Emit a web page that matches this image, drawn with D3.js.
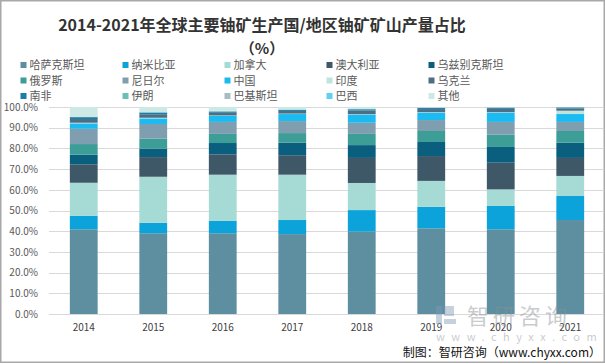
<!DOCTYPE html>
<html>
<head>
<meta charset="utf-8">
<script src="https://cdn.jsdelivr.net/npm/d3@7"></script>
<style>
    body { margin: 0; background: #fff; }
    svg { display: block; font-family: "Noto Sans CJK SC", "Noto Sans", sans-serif; }
</style>
</head>
<body>
<script>
//chart data (share of world uranium mine output, %)
var years = ["2014", "2015", "2016", "2017", "2018", "2019", "2020", "2021"];

var seriesNames = ["哈萨克斯坦", "纳米比亚", "加拿大", "澳大利亚", "乌兹别克斯坦",
    "俄罗斯", "尼日尔", "中国", "印度", "乌克兰", "南非", "伊朗", "巴基斯坦", "巴西", "其他"];

var seriesColors = ["#5d8fa1", "#0ba3da", "#a6dad5", "#3e5867", "#0b5f7e",
    "#3d9d97", "#7f9fb1", "#1bbaf0", "#bfe3dd", "#4e6e84", "#1a7ea8", "#6cc1b2", "#a9bcc1", "#60d0f5", "#cde9e5"];

var kazakhstan = [40.9, 39.0, 39.0, 38.6, 39.8, 41.4, 40.9, 45.4];
var namibia    = [6.6, 5.1, 6.1, 6.8, 10.4, 10.4, 11.3, 11.6];
var canada     = [15.9, 22.2, 22.2, 21.9, 13.1, 12.5, 8.0, 9.7];
var australia  = [8.9, 9.5, 9.8, 9.4, 12.1, 12.0, 12.9, 8.7];
var uzbekistan = [4.7, 4.1, 5.5, 6.1, 6.2, 6.8, 7.6, 7.4];
var russia     = [5.1, 4.8, 4.4, 4.6, 5.4, 5.3, 5.9, 5.6];
var niger      = [7.4, 7.1, 5.8, 5.8, 5.4, 5.3, 6.2, 4.4];
var china      = [2.6, 2.7, 2.9, 3.4, 3.9, 3.6, 4.5, 3.8];
var india      = [0.3, 0.3, 0.2, 0.2, 0.2, 0.2, 0.2, 1.6];
var ukraine    = [1.8, 1.7, 1.3, 1.3, 1.8, 1.5, 1.6, 1.1];
var southAfrica = [0.9, 0.8, 0.6, 0.5, 0.6, 0.5, 0.5, 0.5];
var iran       = [0.1, 0.1, 0.1, 0.1, 0.1, 0.1, 0.1, 0.0];
var pakistan   = [0.1, 0.1, 0.1, 0.1, 0.1, 0.1, 0.1, 0.0];
var brazil     = [0.1, 0.1, 0.1, 0.1, 0.1, 0.1, 0.1, 0.1];
var others     = [4.6, 2.4, 1.9, 1.1, 0.8, 0.2, 0.1, 0.1];

var seriesValues = [kazakhstan, namibia, canada, australia, uzbekistan, russia, niger,
    china, india, ukraine, southAfrica, iran, pakistan, brazil, others];

var yTicks = [0, 0.1, 0.2, 0.3, 0.4, 0.5, 0.6, 0.7, 0.8, 0.9, 1.0];

//begin script when window loads
window.onload = drawChart();

function drawChart(){
    var width = 605,
        height = 364;

    var svg = d3.select("body")
        .append("svg")
        .attr("width", width)
        .attr("height", height);

    //outer frame
    svg.append("rect")
        .attr("x", 0.75)
        .attr("y", 0.75)
        .attr("width", width - 1.5)
        .attr("height", height - 2.5)
        .attr("fill", "#fff")
        .attr("stroke", "#a8a8a8")
        .attr("stroke-width", 1.5);

    //one row per year for the stack
    var table = years.map(function(y, i){
        var row = { year: y };
        seriesNames.forEach(function(name, j){
            row[name] = seriesValues[j][i] / 100;
        });
        return row;
    });

    var stack = d3.stack().keys(seriesNames);
    var layers = stack(table);

    var x = d3.scaleBand()
        .domain(years)
        .range([49, 605])
        .paddingInner(0.6)
        .paddingOuter(0.3);

    var y = d3.scaleLinear()
        .domain([0, 1])
        .range([314, 107]);

    var color = d3.scaleOrdinal()
        .domain(seriesNames)
        .range(seriesColors);

    //gridlines
    svg.append("g")
        .selectAll("line")
        .data(yTicks)
        .enter()
        .append("line")
        .attr("x1", 49)
        .attr("x2", 603)
        .attr("y1", function(d){ return Math.round(y(d)) + 0.5; })
        .attr("y2", function(d){ return Math.round(y(d)) + 0.5; })
        .attr("stroke", "#d9d9d9")
        .attr("stroke-width", 1);

    //y axis labels
    var yAxis = d3.axisLeft(y)
        .tickValues(yTicks)
        .tickFormat(d3.format(".1%"))
        .tickSize(0)
        .tickPadding(0);

    var yG = svg.append("g")
        .attr("transform", "translate(38,0)")
        .call(yAxis);
    yG.select(".domain").remove();
    yG.selectAll("text")
        .attr("fill", "#595959")
        .style("font-size", "10px")
        .style("font-family", "'Noto Sans CJK SC', sans-serif");

    //stacked bars
    svg.append("g")
        .selectAll("g")
        .data(layers)
        .enter()
        .append("g")
        .attr("fill", function(d){ return color(d.key); })
        .selectAll("rect")
        .data(function(d){ return d; })
        .enter()
        .append("rect")
        .attr("x", function(d){ return x(d.data.year); })
        .attr("width", x.bandwidth())
        .attr("y", function(d){ return y(d[1]); })
        .attr("height", function(d){ return Math.max(0, y(d[0]) - y(d[1])); });

    //x axis labels
    var xAxis = d3.axisBottom(x)
        .tickSize(0)
        .tickPadding(10);

    var xG = svg.append("g")
        .attr("transform", "translate(0,314)")
        .call(xAxis);
    xG.select(".domain").remove();
    xG.selectAll("text")
        .attr("fill", "#404040")
        .style("font-size", "10px")
        .style("font-family", "'Noto Sans CJK SC', sans-serif");

    //title
    svg.append("text")
        .attr("x", 262)
        .attr("y", 31)
        .attr("text-anchor", "middle")
        .attr("fill", "#333")
        .style("font-size", "16px")
        .style("font-weight", "bold")
        .text("2014-2021年全球主要铀矿生产国/地区铀矿矿山产量占比");

    svg.append("text")
        .attr("x", 262)
        .attr("y", 54)
        .attr("text-anchor", "middle")
        .attr("fill", "#333")
        .style("font-size", "15px")
        .style("font-weight", "bold")
        .text("（%）");

    //legend, 5 columns x 3 rows
    var legend = svg.append("g")
        .selectAll("g")
        .data(seriesNames)
        .enter()
        .append("g")
        .attr("transform", function(d, i){
            var col = i % 5, row = Math.floor(i / 5);
            return "translate(" + (20.5 + col * 102) + "," + (65 + row * 15.5) + ")";
        });

    legend.append("rect")
        .attr("x", 0)
        .attr("y", -3)
        .attr("width", 6)
        .attr("height", 6)
        .attr("fill", function(d){ return color(d); });

    legend.append("text")
        .attr("x", 9)
        .attr("y", 4)
        .attr("fill", "#595959")
        .style("font-size", "11px")
        .text(function(d){ return d; });

    //watermark
    var wm = svg.append("g").attr("opacity", 0.45);
    wm.append("rect")
        .attr("x", 436).attr("y", 306)
        .attr("width", 6).attr("height", 18)
        .attr("fill", "#7f9ab5");
    wm.append("path")
        .attr("d", "M444,306 h10 v10 h-10 z M444,319 h12 v5 h-12 z")
        .attr("fill", "#7f9ab5");
    wm.append("text")
        .attr("x", 467)
        .attr("y", 324)
        .attr("fill", "#8a8f96")
        .style("font-size", "22px")
        .style("letter-spacing", "4px")
        .text("智研咨询");
    wm.append("text")
        .attr("x", 436)
        .attr("y", 341)
        .attr("fill", "#8a8f96")
        .style("font-size", "11px")
        .style("letter-spacing", "6.5px")
        .text("www.chyxx.com");

    //source note
    svg.append("text")
        .attr("x", 601)
        .attr("y", 357)
        .attr("text-anchor", "end")
        .attr("fill", "#111")
        .style("font-size", "12px")
        .text("制图：智研咨询（www.chyxx.com）");
};
</script>
</body>
</html>
